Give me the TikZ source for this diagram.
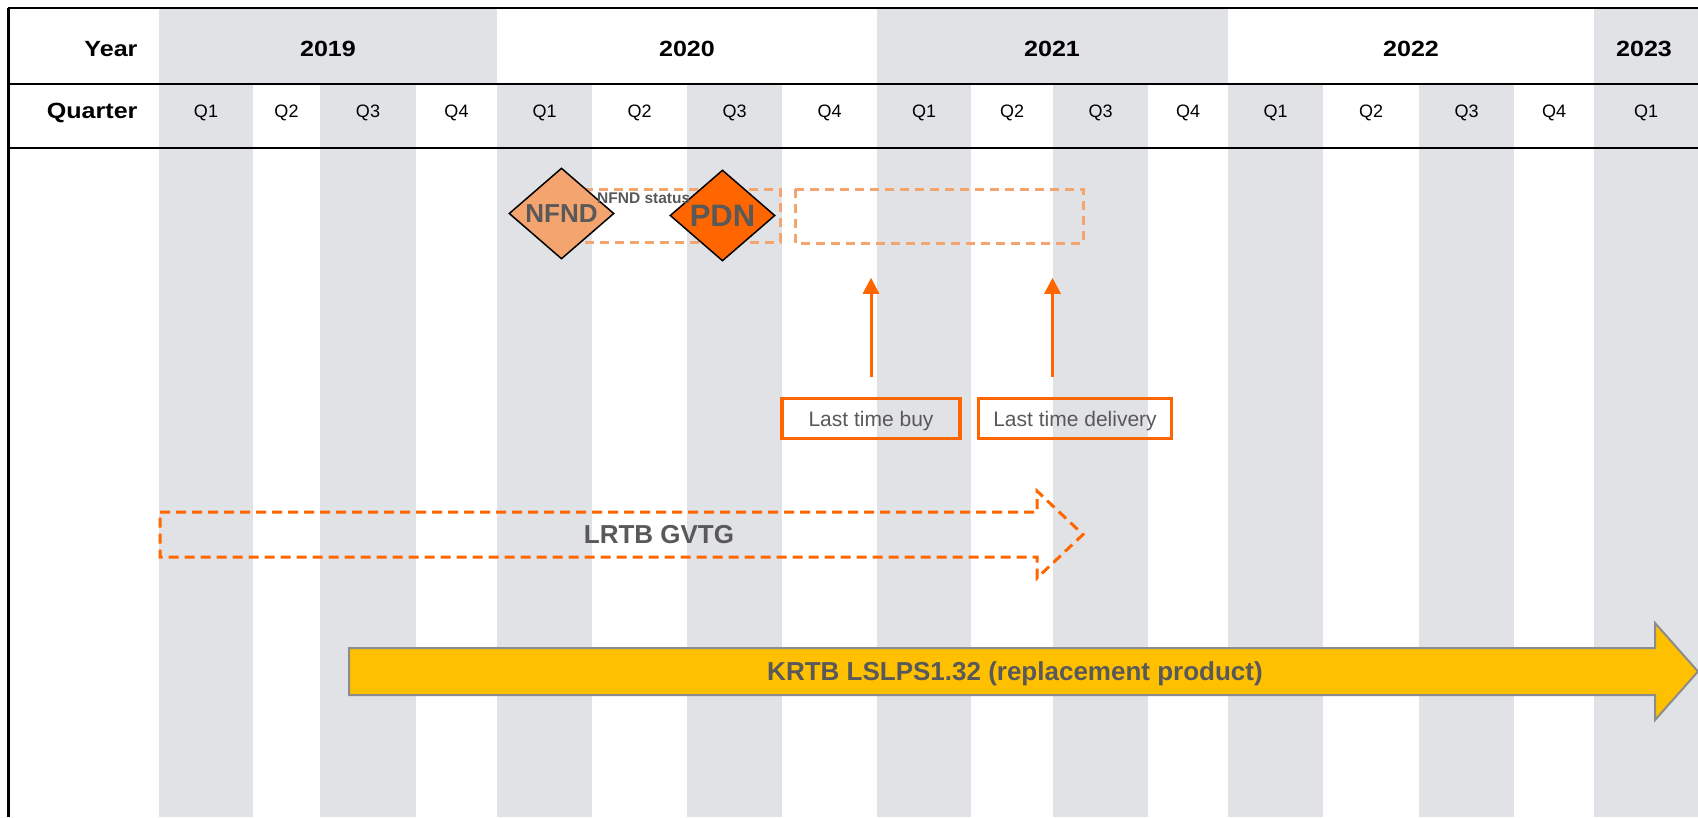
\documentclass[tikz,border=0pt]{standalone}
\usepackage{fontspec}
\setmainfont{Liberation Sans}
\newfontfamily\hdrfont[FakeStretch=1.14]{Liberation Sans}
\usetikzlibrary{shapes.geometric, arrows.meta, positioning}
\definecolor{colgray}{HTML}{E1E2E5}
\definecolor{txtgray}{HTML}{595959}
\definecolor{pdnorange}{HTML}{FF6600}
\definecolor{nfndorange}{HTML}{F4A46E}
\definecolor{krtbyellow}{HTML}{FFC000}
\definecolor{arrowgray}{HTML}{8C8C8C}

\begin{document}
\begin{tikzpicture}[x=1pt, y=-1pt]
\tikzstyle{yearlabel} = [font=\hdrfont\bfseries\fontsize{22}{26}\selectfont]
\tikzstyle{quarterlabel} = [font=\fontsize{18}{22}\selectfont]
\tikzstyle{milestone} = [diamond, draw=black, line width=1.5pt, inner sep=0pt, minimum width=105pt, minimum height=91pt, text=txtgray, font=\bfseries\fontsize{26}{30}\selectfont]
\tikzstyle{statusbox} = [draw=nfndorange, line width=3pt, dash pattern=on 9pt off 6pt]
\tikzstyle{eventbox} = [rectangle, draw=pdnorange, line width=3.5pt, minimum height=40pt, text height=19.4pt, text depth=4.4pt, text=txtgray, font=\fontsize{21}{25}\selectfont]
\tikzstyle{pointer} = [-{Triangle[width=16pt,length=16pt]}, line width=3pt, pdnorange]
\tikzstyle{barlabel} = [text=txtgray, font=\bfseries\fontsize{26}{30}\selectfont]

\useasboundingbox (0,0) rectangle (1698,817);

% year shading
\fill[colgray] (159,8) rectangle (497,84);
\fill[colgray] (877,8) rectangle (1228,84);
\fill[colgray] (1594,8) rectangle (1698,84);

% quarter columns
\foreach \l/\r/\q [count=\i] in {159/253/Q1, 253/320/Q2, 320/416/Q3, 416/497/Q4, 497/592/Q1, 592/687/Q2, 687/782/Q3, 782/877/Q4, 877/971/Q1, 971/1053/Q2, 1053/1148/Q3, 1148/1228/Q4, 1228/1323/Q1, 1323/1419/Q2, 1419/1514/Q3, 1514/1594/Q4, 1594/1698/Q1}{
  \ifodd\i \fill[colgray] (\l,84) rectangle (\r,817); \fi
  \node (q\i) [quarterlabel] at ({(\l+\r)/2},113) {\q};
}

% table rules
\draw[line width=2.2pt] (8,8) -- (1698,8);
\draw[line width=2.2pt] (8,84) -- (1698,84);
\draw[line width=2.2pt] (8,148) -- (1698,148);
\draw[line width=2.2pt] (8.5,8) -- (8.5,817);

\node (year) [yearlabel, anchor=east] at (141,49) {Year};
\node (quarter) [yearlabel, anchor=east] at (141,113) {Quarter};
\foreach \x/\yr in {328/2019, 687/2020, 1052/2021, 1411/2022, 1644/2023}
  \node (y\yr) [yearlabel] at (\x,49) {\yr};

% status periods
\draw[statusbox] (578,189) rectangle (780,242);
\draw[statusbox] (795,189) rectangle (1083,243);

\node (nfnd) [milestone, fill=nfndorange] at (561.5,213.5) {NFND};
\node (pdn) [milestone, fill=pdnorange, font=\bfseries\fontsize{31}{35}\selectfont] at (722.5,215.5) {PDN};
\node (nfndstatus) [text=txtgray, font=\bfseries\fontsize{15.5}{18}\selectfont, anchor=base west, inner sep=0pt] at (597,203) {NFND status};

\node (ltb) [eventbox, minimum width=178pt] at (871,418.5) {Last time buy};
\node (ltd) [eventbox, minimum width=193pt, right=15pt of ltb] {Last time delivery};

\coordinate (ltbfoot) at ([yshift=20pt]ltb.north);
\coordinate (ltbtip) at ([yshift=119pt]ltb.north);
\coordinate (ltdfoot) at ([xshift=-22.5pt, yshift=20pt]ltd.north);
\coordinate (ltdtip) at ([xshift=-22.5pt, yshift=119pt]ltd.north);
\draw[pointer] (ltbfoot) -- (ltbtip);
\draw[pointer] (ltdfoot) -- (ltdtip);

% product bars
\draw[draw=pdnorange, line width=3pt, dash pattern=on 10pt off 6pt] (160,512) -- (1037,512) -- (1037,491) -- (1083,534.5) -- (1037,578) -- (1037,557) -- (160,557) -- cycle;
\node (lrtb) [barlabel] at (659,535) {LRTB GVTG};

\draw[fill=krtbyellow, draw=arrowgray, line width=2pt] (349,648) -- (1655,648) -- (1655,623) -- (1698,671.5) -- (1655,720) -- (1655,695) -- (349,695) -- cycle;
\node (krtb) [barlabel] at (1015,674) {KRTB LSLPS1.32 (replacement product)};

\end{tikzpicture}
\end{document}
